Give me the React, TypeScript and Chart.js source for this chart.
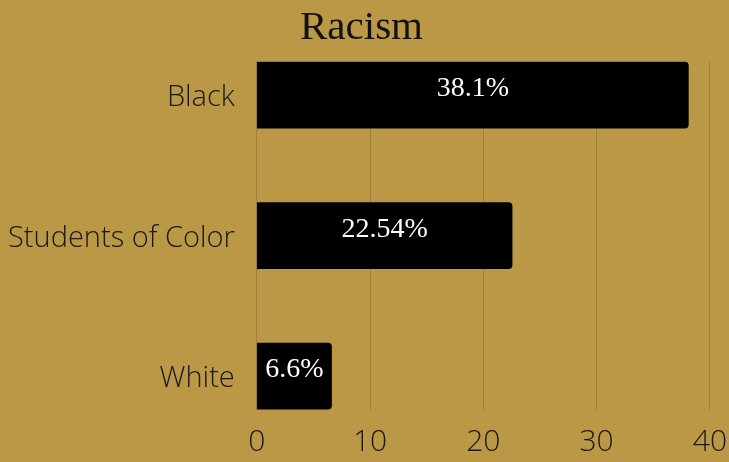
import React, { useEffect, useRef } from "react";
import { Chart, registerables } from "chart.js";

Chart.register(...registerables);

const categories = ["Black", "Students of Color", "White"];
const values = [38.1, 22.54, 6.6];
const valueLabels = ["38.1%", "22.54%", "6.6%"];
const xTicks = [0, 10, 20, 30, 40];
const titleText = "Racism";

const BG = "#BB9846";

const labelPlugin = {
  id: "valueLabels",
  afterDatasetsDraw(chart: any) {
    const ctx = chart.ctx;
    const meta = chart.getDatasetMeta(0);
    ctx.save();
    ctx.fillStyle = "#ffffff";
    ctx.font = "28px 'Liberation Serif'";
    ctx.textAlign = "center";
    ctx.textBaseline = "middle";
    meta.data.forEach((el: any, i: number) => {
      const cx = (el.base + el.x) / 2;
      ctx.fillText(valueLabels[i], cx, el.y - 6);
    });
    ctx.restore();
  },
};

const bgPlugin = {
  id: "bg",
  beforeDraw(chart: any) {
    const ctx = chart.ctx;
    ctx.save();
    ctx.fillStyle = BG;
    ctx.fillRect(0, 0, chart.width, chart.height);
    ctx.restore();
  },
};

export default function App() {
  const ref = useRef<HTMLCanvasElement>(null);
  useEffect(() => {
    if (!ref.current) return;
    const chart = new Chart(ref.current, {
      type: "bar",
      data: {
        datasets: [
          {
            data: values.map((v, i) => ({ x: v, y: i })),
            backgroundColor: "#000000",
            borderRadius: 4,
            borderSkipped: "start",
            barThickness: 66,
          },
        ],
      },
      options: {
        indexAxis: "y",
        animation: false,
        responsive: false,
        maintainAspectRatio: false,
        layout: { padding: { left: -6, right: 0, top: 0, bottom: 0 } },
        plugins: {
          legend: { display: false },
          tooltip: { enabled: false },
          title: {
            display: true,
            text: titleText,
            color: "#111111",
            font: { family: "'Liberation Serif'", size: 41, weight: "normal" },
            padding: { top: 4, bottom: 8 },
          },
        },
        scales: {
          x: {
            type: "linear",
            min: 0,
            max: 40,
            afterBuildTicks: (s: any) => {
              s.ticks = xTicks.map((v) => ({ value: v }));
            },
            grid: { color: "rgba(0,0,0,0.15)", drawTicks: true, tickLength: 12, tickColor: "rgba(0,0,0,0)" },
            border: { display: false },
            ticks: {
              color: "#1a1a1a",
              font: { family: "'Open Sans'", size: 30, weight: 300 },
              padding: 2,
            },
          },
          y: {
            type: "linear",
            reverse: true,
            offset: false,
            min: -0.241,
            max: 2.241,
            afterBuildTicks: (s: any) => {
              s.ticks = categories.map((_, i) => ({ value: i }));
            },
            grid: { display: false },
            border: { display: false },
            ticks: {
              color: "#1a1a1a",
              font: { family: "'Open Sans'", size: 29, weight: 300 },
              padding: 14,
              labelOffset: 3,
              callback: (v: any) => categories[v as number] ?? "",
            },
          },
        },
      },
      plugins: [bgPlugin, labelPlugin],
    });
    return () => chart.destroy();
  }, []);
  return (
    <div style={{ position: "fixed", left: 0, top: 0, width: 729, height: 462, background: BG }}>
      <canvas ref={ref} width={729} height={462} style={{ width: 729, height: 462 }} />
    </div>
  );
}
